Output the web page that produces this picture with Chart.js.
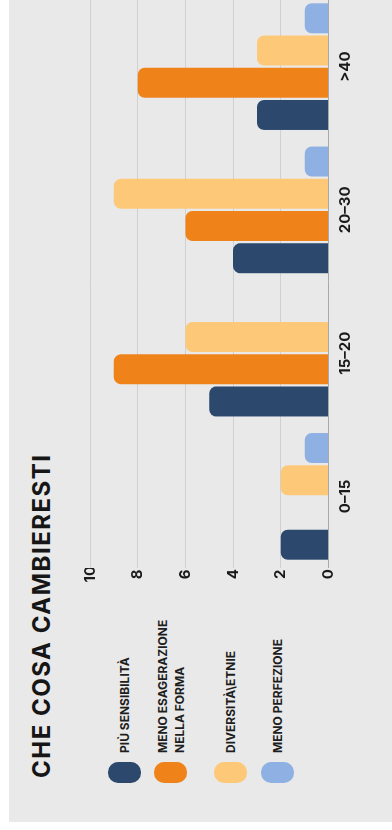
<!DOCTYPE html>
<html>
<head>
<meta charset="utf-8">
<script src="https://cdn.jsdelivr.net/npm/chart.js@4"></script>
<style>
  html, body { margin: 0; padding: 0; background: #fff; overflow: hidden; }
  /* the whole slide is laid out landscape and turned a quarter left */
  #page { position: absolute; left: 0; top: 0; width: 830px; height: 392px;
          transform-origin: 0 0; transform: translate(0, 830px) rotate(-90deg); }
  #panel { position: absolute; left: 8px; top: 9px; width: 822px; height: 383px; background: #e9e9e9; }
  #title { position: absolute; left: 52px; top: 28px; font: 700 24px Inter, sans-serif; letter-spacing: 1.5px;
           line-height: 28px; color: #161616; white-space: nowrap; }
  .item { position: absolute; left: 47px; display: flex; align-items: center; height: 33px; }
  .swatch { width: 21px; height: 33px; border-radius: 10px; flex: none; }
  .label { margin-left: 9px; font: 700 12px Inter, sans-serif; line-height: 17px; color: #1e1e1e; white-space: nowrap; }
  #chart { position: absolute; left: 0; top: 0; }
</style>
</head>
<body>
<div id="page">
  <div id="panel"></div>
  <div id="title">CHE COSA CAMBIERESTI</div>
  <div id="legend"></div>
  <canvas id="chart" width="835" height="392"></canvas>
</div>
<script>
// data
const ageGroups = ['0–15', '15–20', '20–30', '>40'];
const seriesNames = ['PIÙ SENSIBILITÀ', ['MENO ESAGERAZIONE', 'NELLA FORMA'], 'DIVERSITÀ\\ETNIE', 'MENO PERFEZIONE'];
const piuSensibilita = [2, 5, 4, 3];
const menoEsagerazione = [0, 9, 6, 8];
const diversitaEtnie = [2, 6, 9, 3];
const menoPerfezione = [1, 0, 1, 1];
const valueTicks = [0, 2, 4, 6, 8, 10];

const seriesColors = ['#2c486c', '#ef8219', '#fdc878', '#8fb0e2'];
const seriesValues = [piuSensibilita, menoEsagerazione, diversitaEtnie, menoPerfezione];

// legend (html so the two-line label wraps like the slide)
const legendTops = [108, 154, 214, 261];
const legend = document.getElementById('legend');
seriesNames.forEach((name, i) => {
    const item = document.createElement('div');
    item.className = 'item';
    item.style.top = legendTops[i] + 'px';
    const sw = document.createElement('div');
    sw.className = 'swatch';
    sw.style.background = seriesColors[i];
    const lb = document.createElement('div');
    lb.className = 'label';
    lb.innerHTML = [].concat(name).join('<br>');
    item.appendChild(sw);
    item.appendChild(lb);
    legend.appendChild(item);
});

const tickFont = { family: 'Inter', size: 15, weight: '700' };

const ctx = document.getElementById('chart').getContext('2d');
const chart = new Chart(ctx, {
    type: 'bar',
    data: {
        labels: ageGroups,
        datasets: seriesValues.map((vals, i) => ({
            label: [].concat(seriesNames[i]).join(' '),
            data: vals,
            backgroundColor: seriesColors[i],
            borderRadius: 7,
            borderSkipped: 'start',
            barPercentage: 0.93,
            categoryPercentage: 0.9
        }))
    },
    options: {
        responsive: false,
        animation: false,
        devicePixelRatio: 1,
        layout: { padding: { top: 90, left: 0, right: 0, bottom: 0 } },
        plugins: {
            legend: { display: false },
            tooltip: { enabled: false }
        },
        scales: {
            x: {
                grid: { display: false },
                border: { display: false },
                ticks: { font: tickFont, color: '#1a1a1a', padding: 0 },
                afterFit: s => { s.height = 63.5; }
            },
            y: {
                min: 0,
                max: 10,
                afterBuildTicks: s => { s.ticks = valueTicks.map(v => ({ value: v })); },
                ticks: { font: tickFont, color: '#1a1a1a', crossAlign: 'center', padding: -2 },
                grid: {
                    drawTicks: false,
                    color: c => c.tick && c.tick.value === 0 ? '#a8a8a8' : '#d0d0d0'
                },
                border: { display: false },
                afterFit: s => { s.width = 262; }
            }
        }
    }
});
</script>
</body>
</html>
